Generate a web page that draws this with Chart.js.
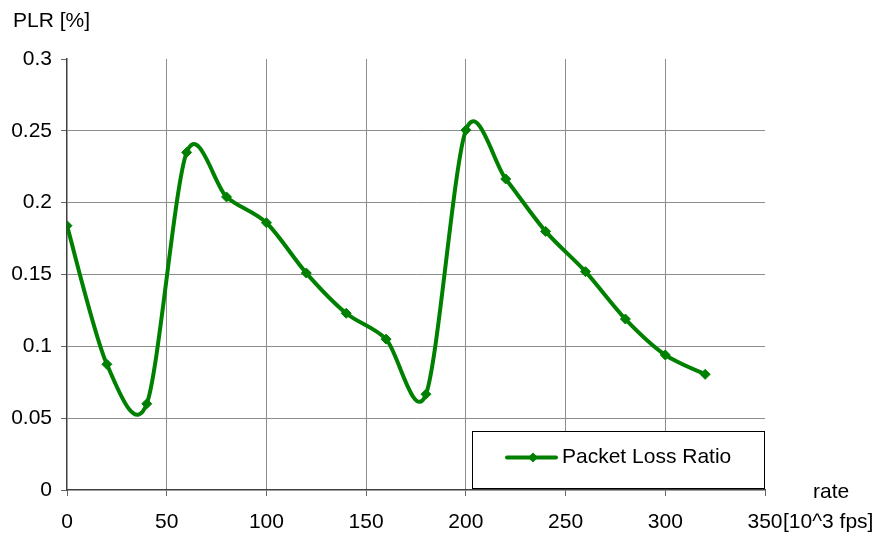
<!DOCTYPE html>
<html>
<head>
<meta charset="utf-8">
<script src="https://cdn.jsdelivr.net/npm/chart.js@4/dist/chart.umd.min.js"></script>
<style>
  html, body { margin: 0; padding: 0; background: #ffffff; }
  #wrap { width: 882px; height: 533px; position: relative; }
</style>
</head>
<body>
<div id="wrap"><canvas id="c" width="882" height="533"></canvas></div>
<script>
// ---- data ----
const rates = [0, 20, 40, 60, 80, 100, 120, 140, 160, 180, 200, 220, 240, 260, 280, 300, 320];
const plr = [0.184, 0.0875, 0.060, 0.235, 0.204, 0.186, 0.151, 0.123, 0.105, 0.0667, 0.2505, 0.2165, 0.180, 0.152, 0.119, 0.094, 0.0805];
const seriesName = 'Packet Loss Ratio';
const xTicks = [0, 50, 100, 150, 200, 250, 300, 350];
const yTicks = [0, 0.05, 0.1, 0.15, 0.2, 0.25, 0.3];
const yTitle = 'PLR [%]';
const xTitleTop = 'rate';
const xTitleUnit = '[10^3 fps]';

const FONT = "'Liberation Sans', Arial, sans-serif";
const FS = 21;
const GREEN = '#008000';

const points = rates.map((r, i) => ({ x: r, y: plr[i] }));

// Excel-like smoothing: Catmull-Rom style control points on the library's own point positions
const smoothing = {
  id: 'smoothing',
  beforeDatasetDraw(chart, args) {
    const meta = args.meta;
    const line = meta.dataset;
    const pts = meta.data;
    if (!line || !pts.length) return;
    line.updateControlPoints(chart.chartArea, 'x');
    const n = pts.length;
    const k = 0.15;
    for (let i = 0; i < n; i++) {
      const p = pts[i];
      const prev = pts[Math.max(i - 1, 0)];
      const next = pts[Math.min(i + 1, n - 1)];
      const dx = (next.x - prev.x) * k;
      const dy = (next.y - prev.y) * k;
      p.cp1x = p.x - dx; p.cp1y = p.y - dy;
      p.cp2x = p.x + dx; p.cp2y = p.y + dy;
    }
    line._path = undefined;
  }
};

const extras = {
  id: 'extras',
  afterDraw(chart) {
    const ctx = chart.ctx;
    ctx.save();
    ctx.fillStyle = '#000';
    ctx.font = FS + 'px ' + FONT;
    ctx.textBaseline = 'middle';
    ctx.textAlign = 'left';
    ctx.fillText(yTitle, 13, 21);
    ctx.fillText(xTitleTop, 813, 492);
    ctx.fillText(xTitleUnit, 783, 522);

    // legend box inside plot, bottom right
    const bx = 472, by = 431, bw = 292, bh = 57;
    ctx.fillStyle = '#fff';
    ctx.fillRect(bx, by, bw, bh);
    ctx.strokeStyle = '#000';
    ctx.lineWidth = 1;
    ctx.strokeRect(bx + 0.5, by + 0.5, bw, bh);
    const ly = by + bh / 2 - 2;
    ctx.strokeStyle = GREEN;
    ctx.lineWidth = 4;
    ctx.lineCap = 'round';
    ctx.beginPath();
    ctx.moveTo(507, ly);
    ctx.lineTo(556, ly);
    ctx.stroke();
    ctx.fillStyle = GREEN;
    ctx.beginPath();
    const cx = 533, r = 5;
    ctx.moveTo(cx, ly - r); ctx.lineTo(cx + r, ly); ctx.lineTo(cx, ly + r); ctx.lineTo(cx - r, ly); ctx.closePath();
    ctx.fill();
    ctx.fillStyle = '#000';
    ctx.fillText(chart.data.datasets[0].label, 562, ly);
    ctx.restore();
  }
};

new Chart(document.getElementById('c'), {
  type: 'line',
  data: {
    datasets: [{
      label: seriesName,
      data: points,
      borderColor: GREEN,
      backgroundColor: GREEN,
      borderWidth: 4,
      tension: 0.5,
      pointStyle: 'rectRot',
      pointRadius: 5,
      pointBackgroundColor: GREEN,
      pointBorderColor: GREEN,
      pointBorderWidth: 1,
      fill: false
    }]
  },
  options: {
    responsive: false,
    animation: false,
    devicePixelRatio: 1,
    layout: { padding: { left: 0, top: 59, right: 117, bottom: 0 } },
    plugins: { legend: { display: false }, tooltip: { enabled: false } },
    scales: {
      x: {
        type: 'linear',
        min: 0, max: 350,
        afterBuildTicks(scale) { scale.ticks = xTicks.map(v => ({ value: v })); },
        afterFit(scale) { scale.height = 43; },
        ticks: {
          color: '#000',
          font: { family: FONT, size: FS },
          padding: 14,
          maxRotation: 0,
          autoSkip: false,
          callback: v => String(v)
        },
        grid: {
          color: c => (c.tick && (c.tick.value === 0 || c.tick.value === 350)) ? 'rgba(0,0,0,0)' : '#8c8c8c',
          tickColor: '#666',
          tickLength: 6,
          lineWidth: 1
        },
        border: { display: true, color: '#404040', width: 1.5 }
      },
      y: {
        type: 'linear',
        min: 0, max: 0.3,
        afterBuildTicks(scale) { scale.ticks = yTicks.map(v => ({ value: v })); },
        afterFit(scale) { scale.width = 67; },
        ticks: {
          color: '#000',
          font: { family: FONT, size: FS },
          padding: 9,
          autoSkip: false,
          callback: v => String(Math.round(v * 100) / 100)
        },
        grid: {
          color: c => (c.tick && (c.tick.value === 0 || Math.abs(c.tick.value - 0.3) < 1e-9)) ? 'rgba(0,0,0,0)' : '#8c8c8c',
          tickColor: '#666',
          tickLength: 6,
          lineWidth: 1
        },
        border: { display: true, color: '#404040', width: 1.5 }
      }
    }
  },
  plugins: [smoothing, extras]
});
</script>
</body>
</html>
